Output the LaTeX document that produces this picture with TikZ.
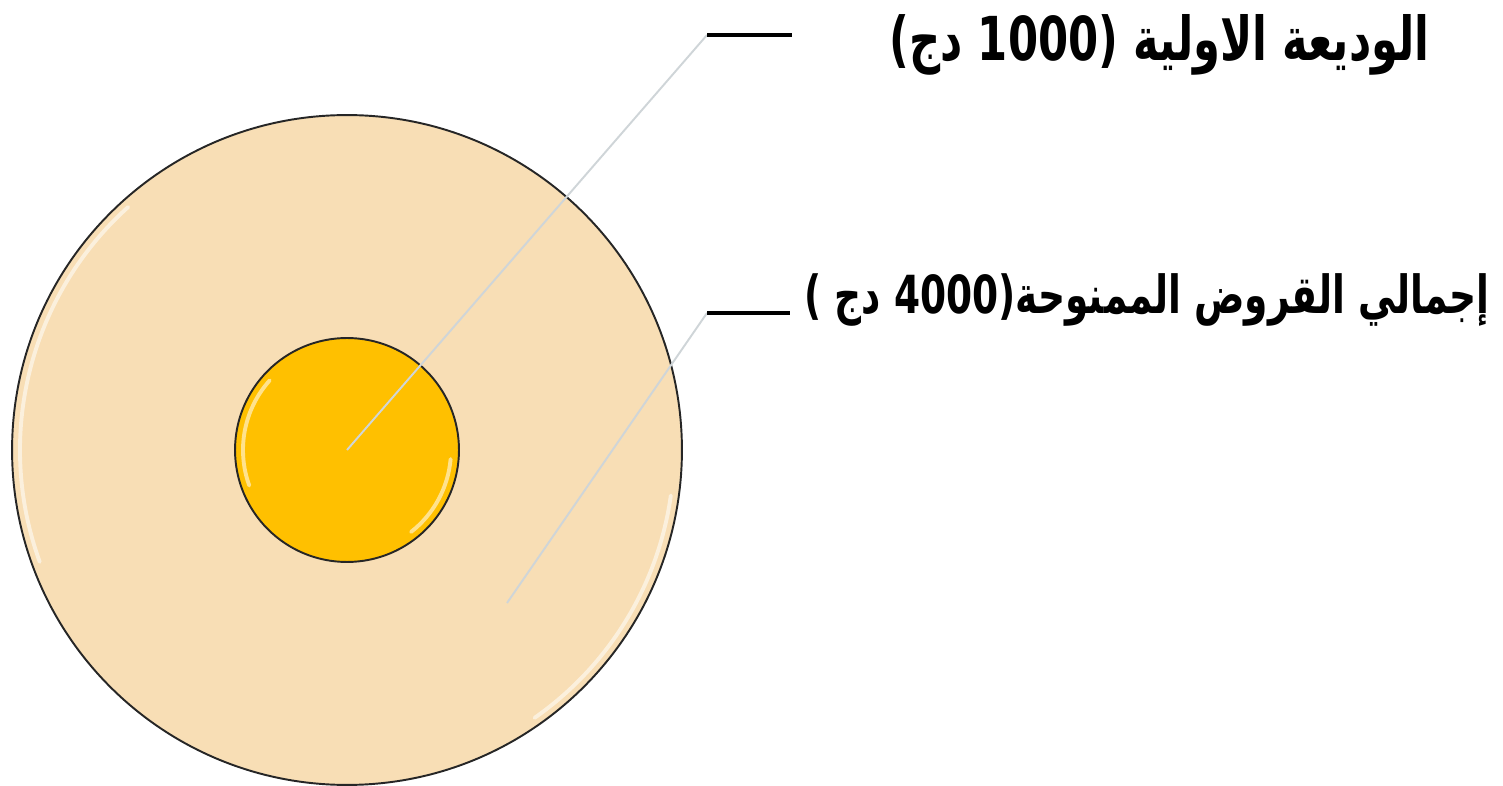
\documentclass[tikz,border=0pt]{standalone}
\usepackage{graphicx}
\usepackage{fontspec}
\usepackage{xcolor}
\usepackage{tikz}
\usetikzlibrary{positioning}
\TeXXeTstate=1
\newfontfamily\arabicfont[Script=Arabic]{DejaVu Sans}
\definecolor{cOuter}{HTML}{F8DEB5}
\definecolor{cInner}{HTML}{FFC000}
\definecolor{cLead}{HTML}{CFD5D8}
\tikzset{
  disk/.style  ={circle, draw=black!85, line width=1.1pt, inner sep=0pt},
  lead/.style  ={draw=cLead, line width=1.1pt},
  tick/.style  ={draw=black, line width=2.2pt},
  tag/.style   ={font=\arabicfont\bfseries, anchor=east, inner sep=0pt},
  shine/.style ={draw=white, line width=2.2pt, opacity=0.55, line cap=round},
}
\begin{document}
\begin{tikzpicture}[x=0.02cm,y=-0.02cm]
  \useasboundingbox (0,0) rectangle (1503,786);
  % the two discs
  \node[disk, fill=cOuter, minimum size=13.4cm] (outer) at (347,450) {};
  \draw[shine] (outer.center) ++(160:327) arc[start angle=160, end angle=228, radius=327];
  \draw[shine] (outer.center) ++(8:327) arc[start angle=8, end angle=55, radius=327];
  \node[disk, fill=cInner, minimum size=4.48cm] (inner) at (347,450) {};
  \draw[shine] (inner.center) ++(160:104) arc[start angle=160, end angle=222, radius=104];
  \draw[shine] (inner.center) ++(5:104) arc[start angle=5, end angle=52, radius=104];
  % leaders
  \coordinate (dot2) at (507,603);
  \coordinate (t1s) at (707,35);  \coordinate (t1e) at (792,35);
  \coordinate (t2s) at (707,313); \coordinate (t2e) at (790,313);
  \draw[lead] (inner.center) -- (t1s);
  \draw[lead] (dot2) -- (t2s);
  \draw[tick] (t1s) -- (t1e);
  \draw[tick] (t2s) -- (t2e);
  % labels
  \node[tag] (dep) at (1430,45) {\scalebox{1}[1.4]{\resizebox{10.8cm}{!}{\beginR الوديعة الاولية (1000 دج)\endR}}};
  \node[tag] (loan) at (1490,300) {\scalebox{1}[1.4]{\resizebox{13.7cm}{!}{\beginR إجمالي القروض الممنوحة(4000 دج )\endR}}};
\end{tikzpicture}
\end{document}
